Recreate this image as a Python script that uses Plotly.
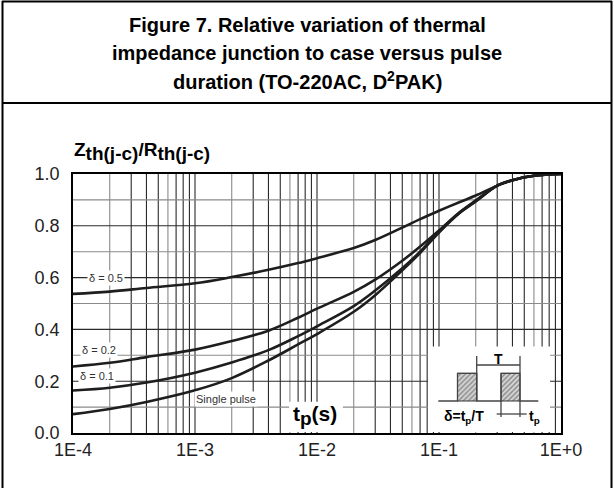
import math
import plotly.graph_objects as go

# ---------------- data ----------------
tp = [1e-4, 2e-4, 4e-4, 1e-3, 2e-3, 4e-3, 7e-3, 1e-2, 2e-2, 3e-2,
      5e-2, 7e-2, 1e-1, 1.5e-1, 2e-1, 3e-1, 4e-1, 6e-1, 1.0]
z_delta_05 = [0.537, 0.546, 0.560, 0.578, 0.602, 0.630, 0.656, 0.675, 0.714, 0.745,
              0.793, 0.826, 0.858, 0.893, 0.917, 0.955, 0.976, 0.993, 1.0]
z_delta_02 = [0.257, 0.271, 0.293, 0.322, 0.355, 0.395, 0.445, 0.480, 0.545, 0.592,
              0.665, 0.720, 0.782, 0.855, 0.898, 0.955, 0.976, 0.993, 1.0]
z_delta_01 = [0.164, 0.175, 0.195, 0.233, 0.272, 0.320, 0.374, 0.412, 0.490, 0.550,
              0.636, 0.700, 0.778, 0.853, 0.895, 0.955, 0.976, 0.993, 1.0]
z_single = [0.073, 0.093, 0.120, 0.165, 0.212, 0.280, 0.342, 0.382, 0.468, 0.532,
            0.628, 0.695, 0.774, 0.852, 0.894, 0.955, 0.976, 0.993, 1.0]

series_names = ["δ = 0.5", "δ = 0.2", "δ = 0.1", "Single pulse"]
series_values = [z_delta_05, z_delta_02, z_delta_01, z_single]
# label anchor (x, y) in data units
label_pos = [(1.85e-4, 0.598), (1.64e-4, 0.320), (1.58e-4, 0.219), (1.78e-3, 0.133)]

x_tick_vals = [1e-4, 1e-3, 1e-2, 1e-1, 1.0]
x_tick_text = ["1E-4", "1E-3", "1E-2", "1E-1", "1E+0"]
y_tick_vals = [0.0, 0.2, 0.4, 0.6, 0.8, 1.0]
y_tick_text = ["0.0", "0.2", "0.4", "0.6", "0.8", "1.0"]

title_lines = ["Figure 7. Relative variation of thermal",
               "impedance junction to case versus pulse",
               "duration (TO-220AC, D<sup>2</sup>PAK)"]

FONT = "Liberation Sans, Arial, Helvetica, sans-serif"
DARK = "#2a2a2a"
GRAY = "#8a8a8a"
W, H = 614, 488
ML, MR, MT, MB = 73, 53, 174, 55
pw, ph = W - ML - MR, H - MT - MB


def px(xp):
    return (xp - ML) / pw


def py(yp):
    return (H - MB - yp) / ph


fig = go.Figure()

for name, vals in zip(series_names, series_values):
    fig.add_trace(go.Scatter(x=tp, y=vals, mode="lines", name=name,
                             line=dict(color="#1e1e1e", width=2.6, shape="spline", smoothing=1.0),
                             showlegend=False, hoverinfo="skip"))

shapes = []
# grid lines (log decades with 2..9 subdivisions, 0.1 steps on y)
for d in range(-4, 0):
    for m in range(1, 10):
        xv = m * 10 ** d
        if xv <= 1e-4:
            continue
        col = GRAY if m in (2, 6) else DARK
        shapes.append(dict(type="line", xref="x", yref="y", x0=xv, x1=xv, y0=0, y1=1,
                           line=dict(color=col, width=1.1), layer="below"))
for k in range(1, 10):
    yv = k / 10
    col = DARK if k % 2 == 0 else GRAY
    shapes.append(dict(type="line", xref="x", yref="y", x0=1e-4, x1=1, y0=yv, y1=yv,
                       line=dict(color=col, width=1.1), layer="below"))

# white boxes (axis-label box and pulse inset box)
shapes.append(dict(type="rect", xref="x", yref="y", x0=5.9e-3, x1=1.63e-2, y0=0.004, y1=0.121,
                   fillcolor="white", line=dict(width=0), layer="below"))
shapes.append(dict(type="rect", xref="x", yref="y", x0=0.0813, x1=0.8125, y0=0.004, y1=0.334,
                   fillcolor="white", line=dict(width=0), layer="below"))

# outer frame
shapes += [
    dict(type="line", xref="paper", yref="paper", x0=px(2.5), x1=px(2.5), y0=py(488), y1=py(1), line=dict(color="black", width=2)),
    dict(type="line", xref="paper", yref="paper", x0=px(611.5), x1=px(611.5), y0=py(488), y1=py(1), line=dict(color="black", width=2)),
    dict(type="line", xref="paper", yref="paper", x0=px(2), x1=px(612), y0=py(1.5), y1=py(1.5), line=dict(color="black", width=2)),
    dict(type="line", xref="paper", yref="paper", x0=px(2), x1=px(612), y0=py(103), y1=py(103), line=dict(color="black", width=2)),
]

annotations = []
for (lx, ly), name in zip(label_pos, series_names):
    annotations.append(dict(x=math.log10(lx), y=ly, xref="x", yref="y", text=name, showarrow=False,
                            font=dict(family=FONT, size=11, color="#333"),
                            bgcolor="white", borderpad=1, xanchor="center", yanchor="middle"))
# title
for t, yc in zip(title_lines, [25, 53, 80]):
    annotations.append(dict(x=0.5 * (px(2) + px(612)), y=py(yc), xref="paper", yref="paper",
                            text="<b>" + t + "</b>", showarrow=False, xanchor="center", yanchor="middle",
                            font=dict(family=FONT, size=20, color="black")))
# y axis title
sub = '<sub><span style="font-size:19px">th(j-c)</span></sub>'
annotations.append(dict(x=px(72), y=py(151), xref="paper", yref="paper",
                        text="<b>Z" + sub + "/R" + sub + "</b>", showarrow=False,
                        xanchor="left", yanchor="middle", font=dict(family=FONT, size=19, color="black")))
# x axis title
annotations.append(dict(x=math.log10(9.7e-3), y=0.068, xref="x", yref="y",
                        text='<b>t<sub><span style="font-size:19px">p</span></sub>(s)</b>',
                        showarrow=False, xanchor="center", yanchor="middle",
                        font=dict(family=FONT, size=21, color="black")))

# ---------------- pulse inset (schematic, own axes in pixel-like units) ----------------
inset_lines = [
    ([10.3, 29.5, 29.5, 48.7, 48.7, 73, 73, 92, 92, 110.3], [32, 32, 59.7, 59.7, 32, 32, 59.7, 59.7, 32, 32]),
    ([48.7, 48.7], [32, 77]),
    ([92, 92], [59.7, 77]),
    ([48.7, 92], [68, 68]),
    ([68.7, 98.7], [19, 19]),
    ([73, 73], [32, 16]),
    ([92, 92], [32, 16]),
]
inset_rects = [(29.5, 48.7), (73, 92)]
for x0, x1 in inset_rects:
    fig.add_trace(go.Scatter(x=[x0, x1, x1, x0, x0], y=[32, 32, 59.7, 59.7, 32], xaxis="x2", yaxis="y2",
                             mode="lines", fill="toself", fillcolor="#d8d8d8",
                             fillpattern=dict(shape="/", fgcolor="#333", bgcolor="#dcdcdc", size=3.5, solidity=0.45),
                             line=dict(color="#333", width=1), showlegend=False, hoverinfo="skip"))
for xs, ys in inset_lines:
    fig.add_trace(go.Scatter(x=xs, y=ys, xaxis="x2", yaxis="y2", mode="lines",
                             line=dict(color="#444", width=1.3), showlegend=False, hoverinfo="skip"))
annotations += [
    dict(x=70.3, y=74, xref="x2", yref="y2", text="<b>T</b>", showarrow=False,
         font=dict(family=FONT, size=14, color="black")),
    dict(x=36, y=16.5, xref="x2", yref="y2", text="<b>δ=t<sub>p</sub>/T</b>", showarrow=False,
         font=dict(family=FONT, size=14, color="black")),
    dict(x=106, y=16.5, xref="x2", yref="y2", text="<b>t<sub>p</sub></b>", showarrow=False,
         font=dict(family=FONT, size=14, color="black")),
]

fig.update_layout(
    width=W, height=H, margin=dict(l=ML, r=MR, t=MT, b=MB, pad=0),
    paper_bgcolor="white", plot_bgcolor="rgba(0,0,0,0)",
    shapes=shapes, annotations=annotations, showlegend=False,
    xaxis=dict(type="log", range=[-4, 0], tickvals=x_tick_vals, ticktext=x_tick_text,
               showgrid=False, zeroline=False, showline=True, mirror=True, linecolor="black", linewidth=1.5,
               ticks="", ticklabelstandoff=0, tickfont=dict(family=FONT, size=18, color="#222")),
    yaxis=dict(range=[0, 1], tickvals=y_tick_vals, ticktext=y_tick_text,
               showgrid=False, zeroline=False, showline=True, mirror=True, linecolor="black", linewidth=1.5,
               ticks="", ticklabelstandoff=8, tickfont=dict(family=FONT, size=18, color="#222")),
    xaxis2=dict(domain=[px(428), px(550)], range=[0, 122], anchor="y2", visible=False),
    yaxis2=dict(domain=[0, 86 / ph], range=[0, 86], anchor="x2", visible=False),
)

fig.write_html("out.html")
